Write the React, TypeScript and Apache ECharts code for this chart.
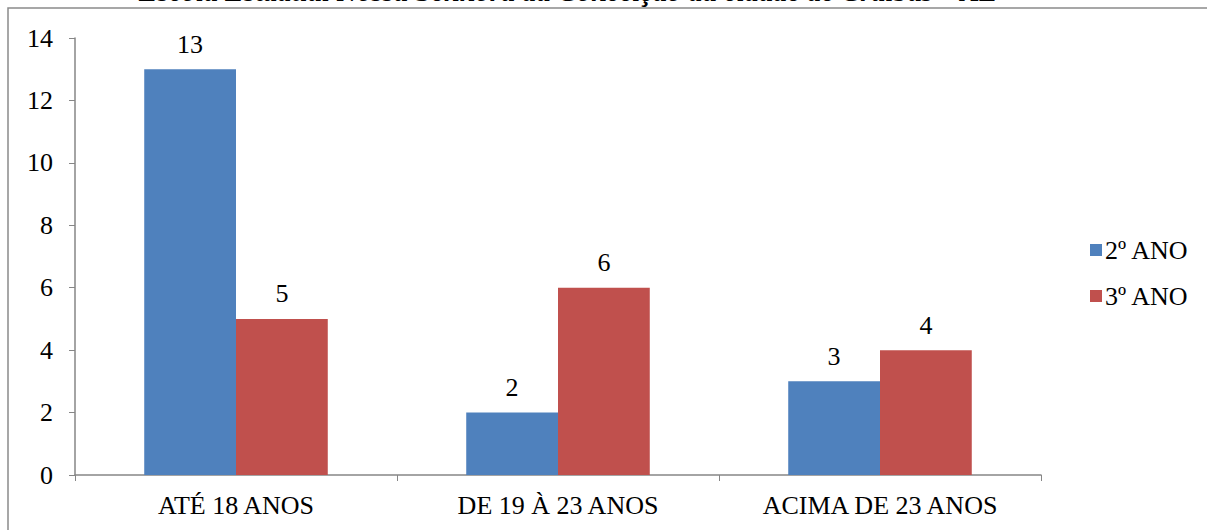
import React, { useEffect, useRef } from "react";
import * as echarts from "echarts";

const categories = ["ATÉ 18 ANOS", "DE 19 À 23 ANOS", "ACIMA DE 23 ANOS"];
const series2Ano = [13, 2, 3];
const series3Ano = [5, 6, 4];
const seriesNames = ["2º ANO", "3º ANO"];
const titleText = "Escola Estadual Nossa Senhora da Conceição da cidade de Craíbas – AL";

export default function App() {
  const ref = useRef<HTMLDivElement>(null);
  useEffect(() => {
    if (!ref.current) return;
    const chart = echarts.init(ref.current, null, { renderer: "svg" });
    const font = "Liberation Serif";
    const labelStyle = { show: true, position: "top", color: "#000", fontFamily: font, fontSize: 26, distance: 12 };
    chart.setOption({
      animation: false,
      backgroundColor: "#fff",
      textStyle: { fontFamily: font },
      graphic: [
        {
          type: "rect",
          shape: { x: 8, y: 8, width: 1230, height: 560 },
          style: { fill: "none", stroke: "#8a8a8a", lineWidth: 1.5 },
          z: 0,
          silent: true,
        },
        {
          type: "text",
          x: 568,
          y: 6,
          style: {
            text: titleText,
            fontFamily: font,
            fontSize: 28.5,
            fontWeight: "bold",
            fontStyle: "italic",
            fill: "#000",
            align: "center",
            verticalAlign: "bottom",
          },
          z: 10,
        },
      ],
      legend: {
        orient: "vertical",
        left: 1085,
        top: 232,
        itemWidth: 12,
        itemHeight: 12,
        itemGap: 20,
        icon: "rect",
        textStyle: { fontFamily: font, fontSize: 26, color: "#000", padding: [0, 0, 0, -2] },
        data: seriesNames,
      },
      grid: { left: 75, right: 166, top: 38, bottom: 55, containLabel: false },
      xAxis: {
        type: "category",
        data: categories,
        axisLine: { lineStyle: { color: "#868686", width: 1.5 } },
        axisTick: { show: true, length: 6, lineStyle: { color: "#868686" } },
        axisLabel: { color: "#000", fontFamily: font, fontSize: 26, margin: 17 },
      },
      yAxis: {
        type: "value",
        min: 0,
        max: 14,
        interval: 2,
        splitLine: { show: false },
        axisLine: { show: true, lineStyle: { color: "#868686", width: 1.5 } },
        axisTick: { show: true, length: 6, lineStyle: { color: "#868686" } },
        axisLabel: { color: "#000", fontFamily: font, fontSize: 26, margin: 22 },
      },
      series: [
        {
          name: seriesNames[0],
          type: "bar",
          data: series2Ano,
          itemStyle: { color: "#4F81BD" },
          barGap: "0%",
          barCategoryGap: "43%",
          label: labelStyle,
        },
        {
          name: seriesNames[1],
          type: "bar",
          data: series3Ano,
          itemStyle: { color: "#C0504D" },
          label: labelStyle,
        },
      ],
    });
    return () => chart.dispose();
  }, []);
  return (
    <div
      ref={ref}
      style={{ position: "absolute", left: 0, top: 0, width: 1207, height: 530 }}
    />
  );
}
